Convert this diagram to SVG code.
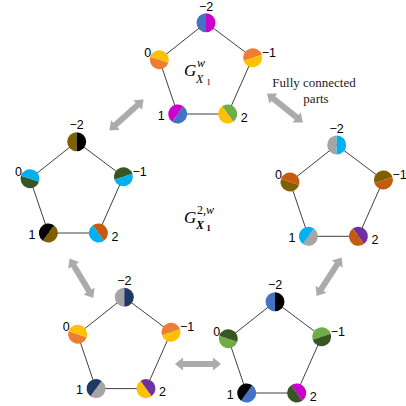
<svg xmlns="http://www.w3.org/2000/svg" xmlns:xlink="http://www.w3.org/1999/xlink" width="406" height="406" viewBox="0 0 406 406">
<style>
.e{stroke:#404040;stroke-width:1;fill:none}
.arr{fill:#ababab}
.lb{font-family:"Liberation Sans",Arial,sans-serif;font-size:12.5px;fill:#000}
.m{text-anchor:middle}.s{text-anchor:start}.en{text-anchor:end}
.math{font-family:"Liberation Serif","Times New Roman",serif;fill:#000}
.note{font-family:"Liberation Serif","Times New Roman",serif;font-size:13px;fill:#222;text-anchor:middle}
.blue{fill:#4472C4}.mag{fill:#CC00CC}.org{fill:#ED7D31}.yel{fill:#FFC000}.lgr{fill:#70AD47}
.dgr{fill:#375623}.cya{fill:#00B0F0}.olv{fill:#7F6000}.blk{fill:#000}.brn{fill:#C55A11}
.gry{fill:#A5A5A5}.pur{fill:#7030A0}.nav{fill:#1F3864}
</style>
<defs>
<path id="L" d="M0 -9.5A9.5 9.5 0 0 0 0 9.5Z"/>
<path id="R" d="M0 -9.5A9.5 9.5 0 0 1 0 9.5Z"/>
<path id="A" d="M-23 0L-15 -6.5L-15 -3L15 -3L15 -6.5L23 0L15 6.5L15 3L-15 3L-15 6.5Z"/>
</defs>
<rect width="406" height="406" fill="#fff"/>
<g id="connectors">
<g id="edges">
<polygon class="e" points="206,22.7 252.7,57.7 227.7,114 177.7,114 159.3,59.7"/>
<polygon class="e" points="76.7,141.7 123.4,176.7 98.4,233 48.4,233 30,178.7"/>
<polygon class="e" points="336.7,145 383.4,180 358.4,236.3 308.4,236.3 290,182"/>
<polygon class="e" points="124.3,297.3 171,332.3 146,388.6 96,388.6 77.6,334.3"/>
<polygon class="e" points="275,301.7 321.7,336.7 296.7,393 246.7,393 228.3,338.7"/>
</g>
<g id="arrows">
<use xlink:href="#A" class="arr" transform="translate(126.5 115) rotate(-42)"/>
<use xlink:href="#A" class="arr" transform="translate(285 108) rotate(39)"/>
<use xlink:href="#A" class="arr" transform="translate(81.4 278.3) rotate(59)"/>
<use xlink:href="#A" class="arr" transform="translate(329.2 276.7) rotate(-57)"/>
<use xlink:href="#A" class="arr" transform="translate(198 364)"/>
</g>
</g>
<!-- top pentagon -->
<g id="t-m2" transform="translate(206 22.7)"><g><use xlink:href="#L" class="blue"/><use xlink:href="#R" class="mag"/></g><text class="lb m" x="0" y="-12">−2</text></g>
<g id="t-m1" transform="translate(252.7 57.7)"><g transform="rotate(72)"><use xlink:href="#L" class="org"/><use xlink:href="#R" class="yel"/></g><text class="lb s" x="9" y="-1">−1</text></g>
<g id="t-2" transform="translate(227.7 114)"><g transform="rotate(144)"><use xlink:href="#L" class="lgr"/><use xlink:href="#R" class="yel"/></g><text class="lb s" x="13" y="7.5">2</text></g>
<g id="t-1" transform="translate(177.7 114)"><g transform="rotate(216)"><use xlink:href="#L" class="blue"/><use xlink:href="#R" class="mag"/></g><text class="lb en" x="-13" y="5.5">1</text></g>
<g id="t-0" transform="translate(159.3 59.7)"><g transform="rotate(288)"><use xlink:href="#L" class="org"/><use xlink:href="#R" class="yel"/></g><text class="lb en" x="-8" y="-3">0</text></g>
<!-- left pentagon -->
<g id="l-m2" transform="translate(76.7 141.7)"><g><use xlink:href="#L" class="olv"/><use xlink:href="#R" class="blk"/></g><text class="lb m" x="0" y="-12.5">−2</text></g>
<g id="l-m1" transform="translate(123.4 176.7)"><g transform="rotate(72)"><use xlink:href="#L" class="dgr"/><use xlink:href="#R" class="cya"/></g><text class="lb s" x="9" y="-1">−1</text></g>
<g id="l-2" transform="translate(98.4 233)"><g transform="rotate(144)"><use xlink:href="#L" class="brn"/><use xlink:href="#R" class="cya"/></g><text class="lb s" x="13" y="7.5">2</text></g>
<g id="l-1" transform="translate(48.4 233)"><g transform="rotate(216)"><use xlink:href="#L" class="olv"/><use xlink:href="#R" class="blk"/></g><text class="lb en" x="-13" y="5.5">1</text></g>
<g id="l-0" transform="translate(30 178.7)"><g transform="rotate(288)"><use xlink:href="#L" class="dgr"/><use xlink:href="#R" class="cya"/></g><text class="lb en" x="-8" y="-3">0</text></g>
<!-- right pentagon -->
<g id="r-m2" transform="translate(336.7 145)"><g><use xlink:href="#L" class="gry"/><use xlink:href="#R" class="cya"/></g><text class="lb m" x="0" y="-12.5">−2</text></g>
<g id="r-m1" transform="translate(383.4 180)"><g transform="rotate(72)"><use xlink:href="#L" class="olv"/><use xlink:href="#R" class="brn"/></g><text class="lb s" x="9" y="-1">−1</text></g>
<g id="r-2" transform="translate(358.4 236.3)"><g transform="rotate(144)"><use xlink:href="#L" class="pur"/><use xlink:href="#R" class="brn"/></g><text class="lb s" x="13" y="7.5">2</text></g>
<g id="r-1" transform="translate(308.4 236.3)"><g transform="rotate(216)"><use xlink:href="#L" class="gry"/><use xlink:href="#R" class="cya"/></g><text class="lb en" x="-13" y="5.5">1</text></g>
<g id="r-0" transform="translate(290 182)"><g transform="rotate(288)"><use xlink:href="#L" class="olv"/><use xlink:href="#R" class="brn"/></g><text class="lb en" x="-8" y="-3">0</text></g>
<!-- bottom-left pentagon -->
<g id="bl-m2" transform="translate(124.3 297.3)"><g><use xlink:href="#L" class="gry"/><use xlink:href="#R" class="nav"/></g><text class="lb m" x="0" y="-12.5">−2</text></g>
<g id="bl-m1" transform="translate(171 332.3)"><g transform="rotate(72)"><use xlink:href="#L" class="org"/><use xlink:href="#R" class="yel"/></g><text class="lb s" x="9" y="-1">−1</text></g>
<g id="bl-2" transform="translate(146 388.6)"><g transform="rotate(144)"><use xlink:href="#L" class="pur"/><use xlink:href="#R" class="yel"/></g><text class="lb s" x="13" y="7.5">2</text></g>
<g id="bl-1" transform="translate(96 388.6)"><g transform="rotate(216)"><use xlink:href="#L" class="gry"/><use xlink:href="#R" class="nav"/></g><text class="lb en" x="-13" y="5.5">1</text></g>
<g id="bl-0" transform="translate(77.6 334.3)"><g transform="rotate(288)"><use xlink:href="#L" class="org"/><use xlink:href="#R" class="yel"/></g><text class="lb en" x="-8" y="-3">0</text></g>
<!-- bottom-right pentagon -->
<g id="br-m2" transform="translate(275 301.7)"><g><use xlink:href="#L" class="blue"/><use xlink:href="#R" class="blk"/></g><text class="lb m" x="0" y="-12.5">−2</text></g>
<g id="br-m1" transform="translate(321.7 336.7)"><g transform="rotate(72)"><use xlink:href="#L" class="lgr"/><use xlink:href="#R" class="dgr"/></g><text class="lb s" x="9" y="-1">−1</text></g>
<g id="br-2" transform="translate(296.7 393)"><g transform="rotate(144)"><use xlink:href="#L" class="mag"/><use xlink:href="#R" class="dgr"/></g><text class="lb s" x="13" y="7.5">2</text></g>
<g id="br-1" transform="translate(246.7 393)"><g transform="rotate(216)"><use xlink:href="#L" class="blue"/><use xlink:href="#R" class="blk"/></g><text class="lb en" x="-13" y="5.5">1</text></g>
<g id="br-0" transform="translate(228.3 338.7)"><g transform="rotate(288)"><use xlink:href="#L" class="lgr"/><use xlink:href="#R" class="dgr"/></g><text class="lb en" x="-8" y="-3">0</text></g>
<!-- labels -->
<g id="label-top">
<text class="math"><tspan x="184" y="76" font-size="17" font-style="italic">G</tspan><tspan x="197" y="67" font-size="12" font-style="italic">w</tspan><tspan x="196" y="83" font-size="12" font-style="italic">X</tspan><tspan x="206.5" y="85" font-size="8.5">1</tspan></text>
</g>
<g id="label-center">
<text class="math"><tspan x="184" y="223" font-size="17" font-style="italic">G</tspan><tspan x="197" y="214" font-size="12">2,</tspan><tspan font-size="12" font-style="italic">w</tspan><tspan x="196" y="229" font-size="12" font-style="italic" font-weight="bold">X</tspan><tspan x="206.5" y="231" font-size="8.5" font-weight="bold">1</tspan></text>
</g>
<g id="note">
<text class="note"><tspan x="314" y="87">Fully connected</tspan><tspan x="316" y="103">parts</tspan></text>
</g>
</svg>
